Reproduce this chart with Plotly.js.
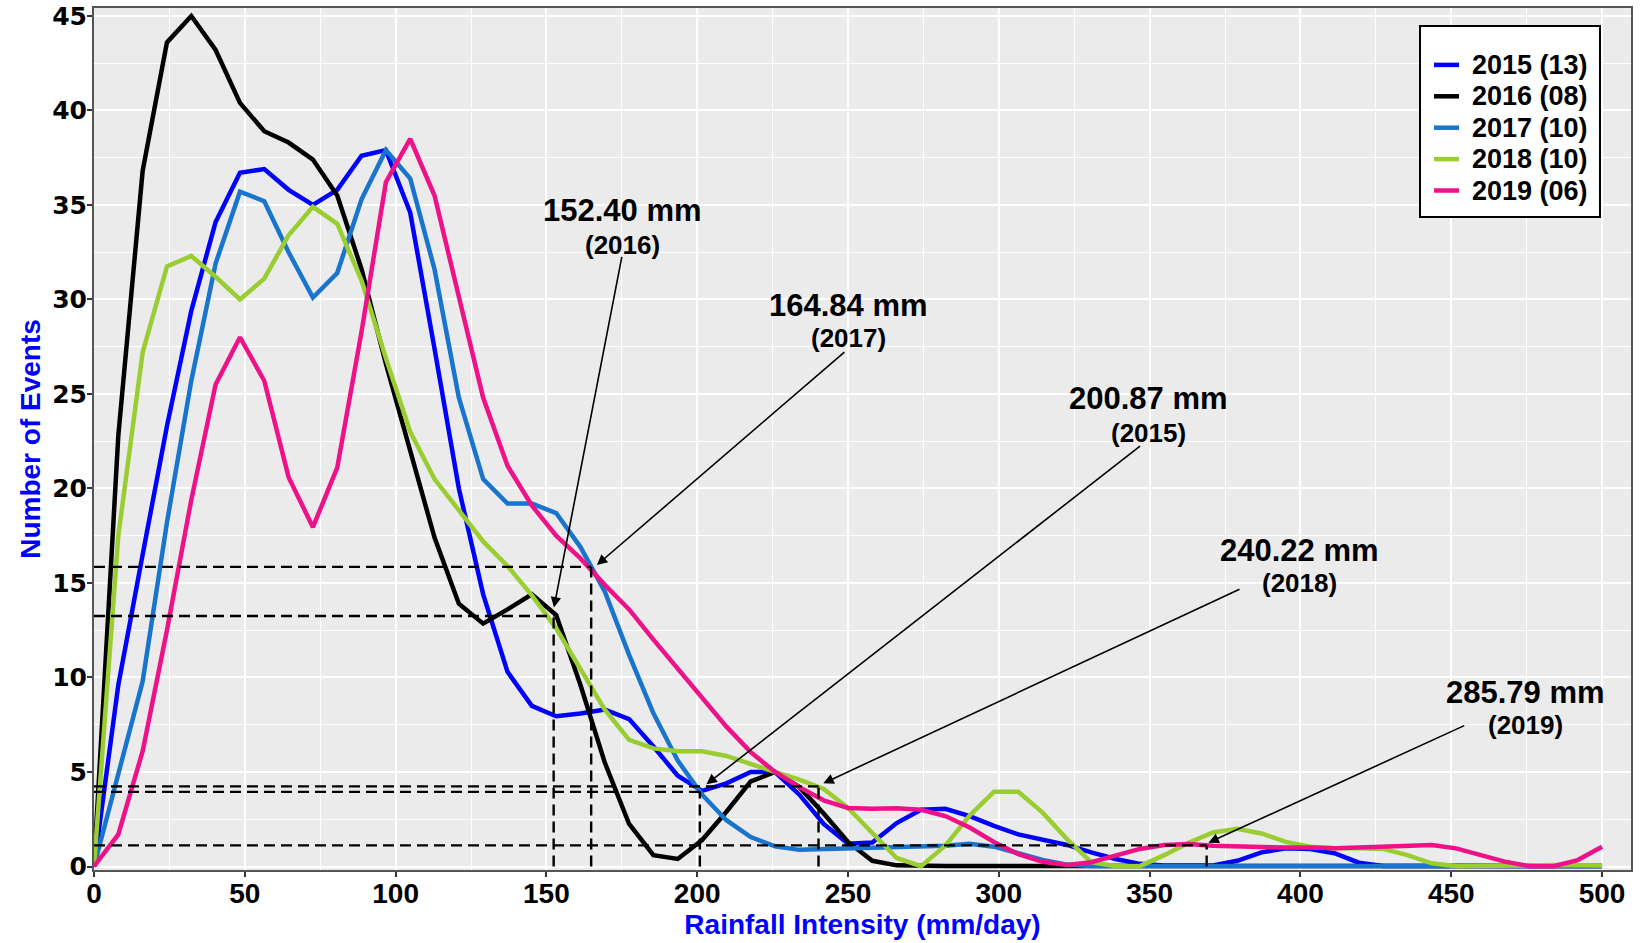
<!DOCTYPE html>
<html>
<head>
<meta charset="utf-8">
<script src="https://cdn.plot.ly/plotly-3.0.1.min.js"></script>
<style>html,body{margin:0;padding:0;background:#fff;}#chart{width:1642px;height:943px;}</style>
</head>
<body>
<div id="chart"></div>
<script>
// Rainfall intensity bins (mm/day)
const rainfall = [0, 8.06, 16.13, 24.19, 32.26, 40.32, 48.39, 56.45, 64.52, 72.58, 80.65, 88.71, 96.77, 104.84, 112.90, 120.97, 129.03, 137.10, 145.16, 153.23, 161.29, 169.35, 177.42, 185.48, 193.55, 201.61, 209.68, 217.74, 225.81, 233.87, 241.94, 250.00, 258.06, 266.13, 274.19, 282.26, 290.32, 298.39, 306.45, 314.52, 322.58, 330.65, 338.71, 346.77, 354.84, 362.90, 370.97, 379.03, 387.10, 395.16, 403.23, 411.29, 419.35, 427.42, 435.48, 443.55, 451.61, 459.68, 467.74, 475.81, 483.87, 491.94, 500.00];

const events2015 = [0, 9.6, 16.5, 23.3, 29.4, 34.1, 36.7, 36.9, 35.8, 35.0, 35.8, 37.6, 37.9, 34.6, 27.4, 20.0, 14.4, 10.3, 8.5, 7.95, 8.1, 8.3, 7.8, 6.35, 4.8, 4.0, 4.4, 5.0, 5.0, 3.8, 2.25, 1.2, 1.27, 2.3, 3.0, 3.05, 2.67, 2.15, 1.7, 1.45, 1.14, 0.75, 0.4, 0.14, 0.05, 0.05, 0.05, 0.3, 0.75, 0.96, 0.93, 0.7, 0.2, 0.03, 0.03, 0.03, 0.03, 0.03, 0.03, 0.03, 0.03, 0.03, 0.03];
const events2016 = [0, 22.8, 36.8, 43.6, 45.0, 43.2, 40.4, 38.9, 38.3, 37.4, 35.5, 31.6, 26.6, 22.1, 17.4, 13.9, 12.85, 13.6, 14.4, 13.3, 9.6, 5.5, 2.25, 0.6, 0.4, 1.4, 2.9, 4.5, 5.0, 4.2, 2.8, 1.3, 0.3, 0.06, 0.03, 0.03, 0.03, 0.03, 0.03, 0.03, 0.03, 0.03, 0.03, 0.03, 0.03, 0.03, 0.03, 0.03, 0.03, 0.03, 0.03, 0.03, 0.03, 0.03, 0.03, 0.03, 0.03, 0.03, 0.03, 0.03, 0.03, 0.03, 0.03];
const events2017 = [0, 4.9, 9.8, 18.2, 25.7, 31.9, 35.7, 35.2, 32.5, 30.1, 31.4, 35.3, 37.9, 36.4, 31.6, 24.8, 20.5, 19.2, 19.2, 18.7, 16.9, 14.55, 11.2, 8.1, 5.6, 3.8, 2.45, 1.56, 1.07, 0.88, 0.92, 0.96, 1.0, 1.05, 1.05, 1.1, 1.2, 1.05, 0.7, 0.35, 0.1, 0.03, 0.03, 0.03, 0.03, 0.03, 0.03, 0.03, 0.03, 0.03, 0.03, 0.03, 0.03, 0.03, 0.03, 0.03, 0.03, 0.03, 0.03, 0.03, 0.03, 0.03, 0.03];
const events2018 = [0, 17.5, 27.2, 31.75, 32.3, 31.2, 30.0, 31.1, 33.4, 34.9, 34.0, 31.0, 26.9, 23.0, 20.5, 18.8, 17.2, 15.9, 14.35, 12.6, 10.45, 8.3, 6.7, 6.25, 6.1, 6.1, 5.85, 5.4, 5.0, 4.6, 4.1, 3.1, 1.76, 0.45, 0.02, 1.1, 2.7, 3.95, 3.95, 2.85, 1.45, 0.23, 0.02, 0.02, 0.6, 1.25, 1.8, 2.0, 1.75, 1.3, 1.05, 0.97, 0.97, 0.93, 0.6, 0.17, 0.02, 0.02, 0.02, 0.05, 0.08, 0.08, 0.05];
const events2019 = [0, 1.7, 6.1, 12.5, 19.4, 25.5, 28.0, 25.7, 20.6, 17.95, 21.1, 28.3, 36.2, 38.5, 35.5, 30.1, 24.8, 21.2, 19.1, 17.5, 16.3, 14.9, 13.6, 12.0, 10.45, 8.9, 7.4, 6.05, 5.0, 4.2, 3.5, 3.1, 3.05, 3.08, 3.0, 2.67, 2.06, 1.3, 0.65, 0.25, 0.08, 0.23, 0.58, 0.93, 1.14, 1.19, 1.1, 1.05, 1.0, 1.0, 1.0, 0.96, 1.0, 1.05, 1.14, 1.14, 0.96, 0.6, 0.26, 0.02, 0.02, 0.34, 1.05];

const seriesNames = ['2015 (13)', '2016 (08)', '2017 (10)', '2018 (10)', '2019 (06)'];
const seriesValues = [events2015, events2016, events2017, events2018, events2019];
const seriesColors = ['#0000FF', '#000000', '#1874CD', '#9ACD32', '#EE1289'];

// Threshold annotations
const annValue = ['152.40 mm', '164.84 mm', '200.87 mm', '240.22 mm', '285.79 mm'];
const annYear = ['(2016)', '(2017)', '(2015)', '(2018)', '(2019)'];
const markX = [152.40, 164.84, 200.87, 240.22, 368.9];
const markY = [13.25, 15.85, 3.95, 4.24, 1.12];

const xTicks = [0, 50, 100, 150, 200, 250, 300, 350, 400, 450, 500];
const yTicks = [0, 5, 10, 15, 20, 25, 30, 35, 40, 45];

// label placement (layout only)
const labelPos = [
  {tx: 175.1, ty: 34.71, yy: 32.88, ax: 175.1, ay: 32.33, dx: 0.1, dy: 0.45},
  {tx: 250.1, ty: 29.66, yy: 27.95, ax: 249.3, ay: 27.28, dx: 1.9, dy: 0.1},
  {tx: 349.7, ty: 24.74, yy: 22.96, ax: 347.3, ay: 22.30, dx: 2.2, dy: 0.4},
  {tx: 399.7, ty: 16.70, yy: 14.98, ax: 380.3, ay: 14.71, dx: 1.6, dy: 0.16},
  {tx: 474.7, ty: 9.22, yy: 7.50, ax: 454.8, ay: 7.49, dx: 0.6, dy: 0.14}
];

const FONT = 'Liberation Sans, Arial, sans-serif';
const DASH = {color: 'black', width: 2.4, dash: '11px,6px'};

const traces = seriesValues.map((vals, k) => ({
  type: 'scatter', mode: 'lines', name: seriesNames[k],
  x: rainfall, y: vals, showlegend: false,
  line: {color: seriesColors[k], width: 4.5}
}));

const shapes = [];
markX.forEach((mx, k) => {
  shapes.push({type: 'line', xref: 'x', yref: 'y', x0: 0, x1: mx, y0: markY[k], y1: markY[k], line: DASH, layer: 'above'});
  shapes.push({type: 'line', xref: 'x', yref: 'y', x0: mx, x1: mx, y0: 0, y1: markY[k], line: DASH, layer: 'above'});
});

// legend (box + entries), plot area: x 94..1631 px, y 8..870 px
const PW = 1537, PH = 862;
const px = v => (v - 94) / PW;
const py = v => (870 - v) / PH;
shapes.push({type: 'rect', xref: 'paper', yref: 'paper', x0: px(1420), x1: px(1600), y0: py(217), y1: py(26),
  line: {color: 'black', width: 2}, fillcolor: 'white', layer: 'above'});

const annotations = [];
seriesNames.forEach((nm, k) => {
  const cy = 64.9 + 31.4 * k;
  shapes.push({type: 'line', xref: 'paper', yref: 'paper', x0: px(1434), x1: px(1459), y0: py(cy), y1: py(cy),
    line: {color: seriesColors[k], width: 4.5}, layer: 'above'});
  annotations.push({xref: 'paper', yref: 'paper', x: px(1470), y: py(cy), xanchor: 'left', yanchor: 'middle',
    text: '<b>' + nm + '</b>', showarrow: false, font: {family: FONT, size: 27, color: 'black'}});
});

markX.forEach((mx, k) => {
  const p = labelPos[k];
  annotations.push({xref: 'x', yref: 'y', x: p.tx, y: p.ty, text: '<b>' + annValue[k] + '</b>', showarrow: false,
    font: {family: FONT, size: 31, color: 'black'}, xanchor: 'center', yanchor: 'middle'});
  annotations.push({xref: 'x', yref: 'y', x: p.tx, y: p.yy, text: '<b>' + annYear[k] + '</b>', showarrow: false,
    font: {family: FONT, size: 26, color: 'black'}, xanchor: 'center', yanchor: 'middle'});
  annotations.push({xref: 'x', yref: 'y', axref: 'x', ayref: 'y', x: mx + p.dx, y: markY[k] + p.dy, ax: p.ax, ay: p.ay,
    text: '', showarrow: true, arrowhead: 2, arrowsize: 1.3, arrowwidth: 1.6, arrowcolor: 'black', standoff: 0});
});

const layout = {
  width: 1642, height: 943,
  margin: {l: 94, r: 11, t: 8, b: 73},
  paper_bgcolor: 'white', plot_bgcolor: '#EBEBEB',
  showlegend: false,
  xaxis: {
    range: [0, 509.6], tickvals: xTicks, ticktext: xTicks.map(String),
    showgrid: true, gridcolor: 'white', gridwidth: 2, zeroline: false,
    minor: {dtick: 25, tick0: 0, showgrid: true, gridcolor: 'white', gridwidth: 1},
    ticks: 'outside', ticklen: 5, tickwidth: 2, tickcolor: '#333', ticklabelstandoff: -8,
    showline: true, linecolor: '#555', linewidth: 2, mirror: true,
    tickfont: {family: FONT, size: 28, color: 'black', weight: 'bold'},
    title: {text: '<b>Rainfall Intensity (mm/day)</b>', font: {family: FONT, size: 28, color: '#0000FF'}, standoff: 6}
  },
  yaxis: {
    range: [-0.185, 45.42], tickvals: yTicks, ticktext: yTicks.map(String),
    showgrid: true, gridcolor: 'white', gridwidth: 2, zeroline: false,
    minor: {dtick: 2.5, tick0: 0, showgrid: true, gridcolor: 'white', gridwidth: 1},
    ticks: 'outside', ticklen: 5, tickwidth: 2, tickcolor: '#333', ticklabelstandoff: -5,
    showline: true, linecolor: '#555', linewidth: 2, mirror: true,
    tickfont: {family: 'DejaVu Sans, sans-serif', size: 25, color: 'black', weight: 'bold'},
    title: {text: '<b>Number of Events</b>', font: {family: FONT, size: 28, color: '#0000FF'}, standoff: 3}
  },
  shapes: shapes,
  annotations: annotations
};

Plotly.newPlot('chart', traces, layout, {displayModeBar: false, staticPlot: true});
</script>
</body>
</html>
